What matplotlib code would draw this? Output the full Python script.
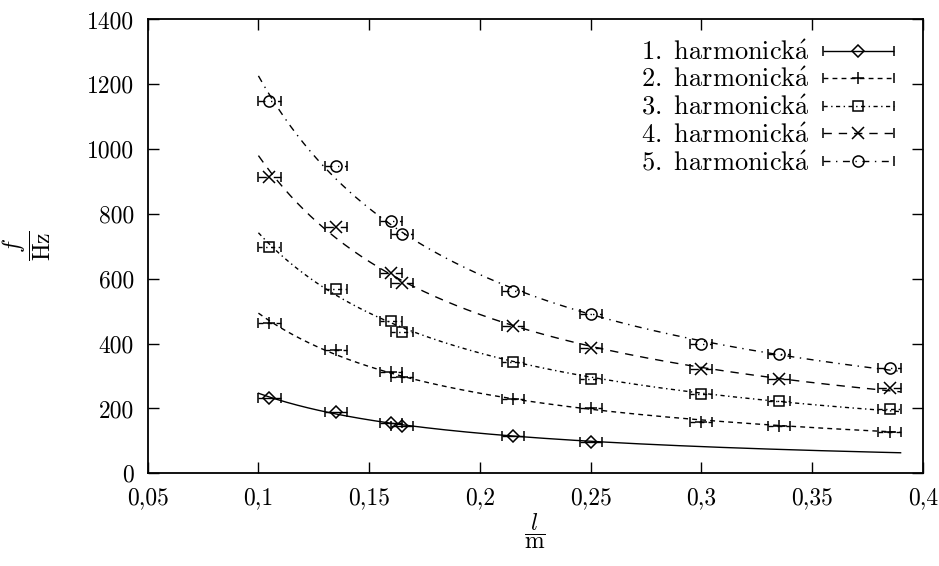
import numpy as np
import matplotlib
matplotlib.use("Agg")
import matplotlib.pyplot as plt
from matplotlib.legend_handler import HandlerErrorbar

# ---- data ----
length = [0.105, 0.135, 0.16, 0.165, 0.215, 0.25, 0.3, 0.335, 0.385]
length_err = 0.005
h1 = [231, 190, 156, 147, 115, 98]
h2 = [463, 380, 313, 298, 228, 200, 159, 146, 126]
h3 = [697, 569, 471, 436, 342, 291, 244, 223, 197]
h4 = [913, 759, 619, 588, 454, 386, 322, 291, 262]
h5 = [1147, 948, 778, 737, 563, 490, 398, 367, 326]
fit_coef = [24.7, 49.4, 74.2, 98.0, 122.6]   # f = a / l
fit_lmin, fit_lmax = 0.1, 0.39
series_labels = ["1. harmonická", "2. harmonická", "3. harmonická",
                 "4. harmonická", "5. harmonická"]
xticks = [0.05, 0.1, 0.15, 0.2, 0.25, 0.3, 0.35, 0.4]
xticklabels = ["0,05", "0,1", "0,15", "0,2", "0,25", "0,3", "0,35", "0,4"]
yticks = [0, 200, 400, 600, 800, 1000, 1200, 1400]

# ---- styles ----
markers = ["D", "+", "s", "x", "o"]
msizes = [6, 8.5, 7.5, 8, 8]
dashes = ["-", (0, (3.5, 3)), (0, (3, 2.5, 1, 2.5)), (0, (6, 5)), (0, (5, 4, 1, 4))]

plt.rcParams["font.family"] = "cmr10"
plt.rcParams["mathtext.fontset"] = "cm"
plt.rcParams["axes.unicode_minus"] = False

fig = plt.figure(figsize=(9.39, 5.66), dpi=100)
ax = fig.add_axes([0.1573, 0.1638, 0.8254, 0.8018])

series = [h1, h2, h3, h4, h5]
handles = []
for i, ys in enumerate(series):
    xs = length[:len(ys)]
    cont = ax.errorbar(xs, ys, xerr=length_err, marker=markers[i], linestyle="none",
                       mfc="none", mec="k", ms=msizes[i], mew=1.1, color="k",
                       ecolor="k", elinewidth=1.0, capsize=3.8, capthick=1.0)
    for col in cont[2]:
        col.set_linestyle(dashes[i])
    handles.append(cont)
    lf = np.linspace(fit_lmin, fit_lmax, 300)
    ax.plot(lf, fit_coef[i] / lf, color="k", lw=1.0, linestyle=dashes[i])


def to_math(s):
    s = s.replace(" ", r"\ ").replace("á", r"\acute{a}")
    return r"$\mathrm{" + s + "}$"


hl = 2.7
leg = ax.legend(handles, [to_math(s) for s in series_labels], loc="upper right",
                bbox_to_anchor=(0.99, 1.0),
                frameon=False, markerfirst=False, handlelength=hl, fontsize=19,
                labelspacing=0.12, borderaxespad=0.4, handletextpad=0.5,
                handler_map={type(handles[0]): HandlerErrorbar(xerr_size=hl / 2)})

ax.set_xlim(0.05, 0.4)
ax.set_ylim(0, 1400)
ax.set_xticks(xticks)
ax.set_xticklabels(xticklabels)
ax.set_yticks(yticks)
ax.tick_params(direction="in", top=True, right=True, length=8, width=1.0,
               labelsize=17, pad=10)
for sp in ax.spines.values():
    sp.set_linewidth(1.3)

ax.set_xlabel(r"$\dfrac{l}{\mathrm{m}}$", fontsize=17)
ax.xaxis.set_label_coords(0.5, -0.085)
ax.xaxis.label.set_va("top")
ax.set_ylabel(r"$\dfrac{f}{\mathrm{Hz}}$", fontsize=17)
ax.yaxis.set_label_coords(-0.122, 0.5)

fig.savefig("out.png", dpi=100)
